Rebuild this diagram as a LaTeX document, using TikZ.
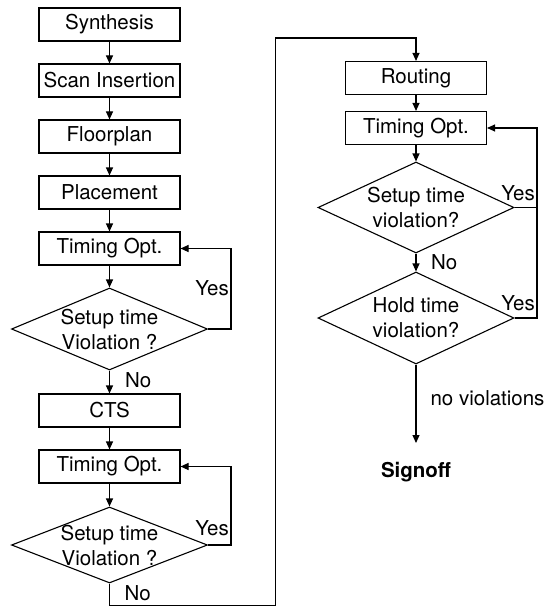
\documentclass[tikz,border=0pt]{standalone}
\usepackage{fontspec}
\setmainfont{TeX Gyre Heros}
\usetikzlibrary{arrows.meta,shapes.geometric}

\begin{document}
\begin{tikzpicture}[x=1pt,y=-1pt,
  txt/.style={font=\fontsize{20.5pt}{25pt}\selectfont},
  stage/.style={txt, draw, line width=1.1pt, minimum width=141pt, minimum height=33pt, inner sep=0pt},
  test/.style={draw, diamond, line width=1.1pt, minimum width=196pt, inner sep=0pt},
  dtext/.style={txt, align=center, inner sep=0pt},
  lbl/.style={txt, inner sep=0pt},
  flow/.style={line width=1.1pt, -{Triangle[length=8pt,width=7pt]}},
  wire/.style={line width=1.1pt}]
\useasboundingbox (0,0) rectangle (545,607);

% left column: front-end and placement stages
\node[stage] (syn)   at (109.5,24.5)  {Synthesis};
\node[stage] (scan)  at (109.5,80.5)  {Scan Insertion};
\node[stage] (floor) at (109.5,136.5) {Floorplan};
\node[stage] (place) at (109.5,192.5) {Placement};
\node[stage] (optA)  at (109.5,248.5) {Timing Opt.};
\node[test, minimum height=82pt] (chkA) at (109.5,329) {};
\node[dtext] (chkAt) at (chkA) {Setup time\\Violation ?};
\node[stage] (cts)   at (109.5,410.5) {CTS};
\node[stage] (optB)  at (109.5,466.5) {Timing Opt.};
\node[test, minimum height=76pt] (chkB) at (109.5,545) {};
\node[dtext] (chkBt) at (chkB) {Setup time\\Violation ?};

% right column: routing and signoff
\node[stage] (route) at (416,78)  {Routing};
\node[stage] (optC)  at (416,128) {Timing Opt.};
\node[test, minimum height=91pt] (chkC) at (416,207.5) {};
\node[dtext] (chkCt) at (chkC) {Setup time\\violation?};
\node[test, minimum height=92pt] (chkD) at (416,318) {};
\node[dtext] (chkDt) at (chkD) {Hold time\\violation?};
\node[txt, font=\fontsize{20.5pt}{25pt}\selectfont\bfseries, anchor=north,
      inner xsep=2pt, inner ysep=19pt] (sign) at (416,443) {Signoff};

% routing points of the loops and the long connector
\coordinate (loopA) at (231,0);
\coordinate (loopC) at (537,0);
\coordinate (bl) at (275.5,605.5);
\coordinate (tl) at (275.5,38);

% left column connectors
\draw[flow] (syn.south) -- (scan.north);
\draw[flow] (scan.south) -- (floor.north);
\draw[flow] (floor.south) -- (place.north);
\draw[flow] (place.south) -- (optA.north);
\draw[flow] (optA.south) -- (chkA.north);
\draw[flow] (chkA.east) -- (chkA.east -| loopA) |- (optA.east);
\draw[flow] (chkA.south) -- node[lbl, anchor=west, xshift=15pt, pos=0.4] (noA) {No} (cts.north);
\draw[flow] (cts.south) -- (optB.north);
\draw[flow] (optB.south) -- (chkB.north);
\draw[flow] (chkB.east) -- (chkB.east -| loopA) |- (optB.east);
\draw[flow] (chkB.south) |- node[lbl, anchor=west, xshift=14.5pt, pos=0.22] (noB) {No} (bl)
            -- (tl) -| (route.north);

\node[lbl, anchor=east] (yA) at (229,288) {Yes};
\node[lbl, anchor=east] (yB) at (229,528) {Yes};

% right column connectors
\draw[flow] (route.south) -- (optC.north);
\draw[flow] (optC.south) -- (chkC.north);
\draw[flow] (chkC.east) -- (chkC.east -| loopC) |- (optC.east);
\draw[wire] (chkD.east) -- (chkD.east -| loopC) -- (chkC.east -| loopC);
\draw[flow] (chkC.south) -- node[lbl, anchor=west, xshift=14.5pt] (noC) {No} (chkD.north);
\draw[flow] (chkD.south) -- node[lbl, anchor=west, xshift=14pt, pos=0.43] (noviol) {no violations} (sign.north);

\node[lbl, anchor=east] (yC) at (535,193) {Yes};
\node[lbl, anchor=east] (yD) at (535,303) {Yes};
\end{tikzpicture}
\end{document}
